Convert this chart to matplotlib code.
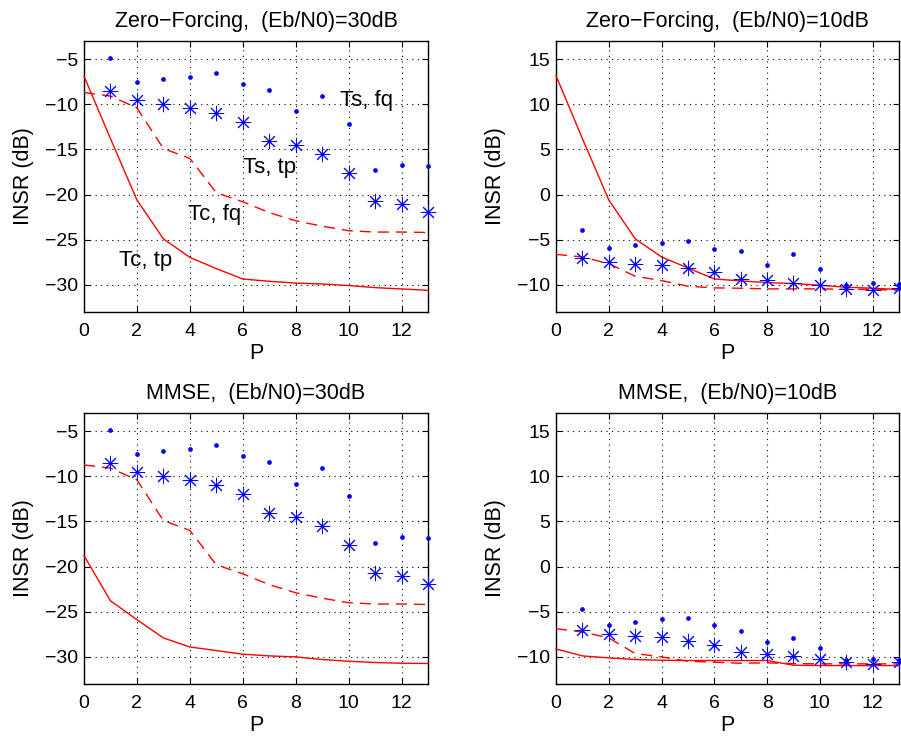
import matplotlib
matplotlib.use("Agg")
import matplotlib.pyplot as plt
import numpy as np

plt.rcParams['font.family'] = ['Liberation Sans', 'DejaVu Sans']

P_line = list(range(0, 14))
P_mark = list(range(1, 14))

# Zero-Forcing, Eb/N0 = 30 dB
zf30_ts_fq = [-4.93, -7.57, -7.24, -6.99, -6.54, -7.76, -8.38, -10.77, -9.08, -12.17, -17.32, -16.73, -16.84]
zf30_ts_tp = [-8.53, -9.49, -9.96, -10.44, -10.99, -11.95, -14.08, -14.49, -15.51, -17.57, -20.66, -21.07, -21.95]
zf30_tc_fq = [-8.7, -9.1, -10.4, -14.9, -16.0, -19.8, -20.8, -22.0, -22.9, -23.5, -24.0, -24.15, -24.15, -24.2]
zf30_tc_tp = [-6.9, -13.8, -20.6, -24.9, -26.95, -28.2, -29.35, -29.6, -29.8, -29.9, -30.07, -30.3, -30.45, -30.6]

# Zero-Forcing, Eb/N0 = 10 dB
zf10_ts_fq = [-3.97, -5.88, -5.59, -5.40, -5.15, -5.99, -6.29, -7.79, -6.62, -8.27, -9.96, -9.74, -9.89]
zf10_ts_tp = [-7.02, -7.46, -7.65, -7.76, -8.16, -8.57, -9.34, -9.49, -9.78, -10.04, -10.44, -10.51, -10.3]
zf10_tc_fq = [-6.62, -6.91, -7.65, -9.04, -9.52, -10.15, -10.33, -10.37, -10.44, -10.44, -10.44, -10.48, -10.5, -10.6]
zf10_tc_tp = [13.16, 6.2, -0.59, -4.89, -6.91, -8.13, -9.34, -9.56, -9.74, -9.85, -10.04, -10.26, -10.37, -10.51]

# MMSE, Eb/N0 = 30 dB
mm30_ts_fq = [-4.93, -7.57, -7.21, -6.99, -6.54, -7.79, -8.38, -10.81, -9.08, -12.17, -17.35, -16.73, -16.84]
mm30_ts_tp = [-8.53, -9.49, -9.96, -10.44, -10.99, -11.95, -14.08, -14.49, -15.51, -17.57, -20.66, -21.07, -21.95]
mm30_tc_fq = [-8.75, -9.1, -10.4, -14.9, -16.0, -19.8, -20.8, -22.0, -22.9, -23.5, -24.0, -24.15, -24.15, -24.2]
mm30_tc_tp = [-18.79, -23.79, -25.88, -27.9, -28.9, -29.3, -29.7, -29.89, -30.0, -30.29, -30.48, -30.62, -30.7, -30.73]

# MMSE, Eb/N0 = 10 dB
mm10_ts_fq = [-4.67, -6.51, -6.1, -5.77, -5.66, -6.51, -7.13, -8.31, -7.87, -9.04, -10.29, -10.22, -10.3]
mm10_ts_tp = [-7.06, -7.5, -7.68, -7.79, -8.2, -8.64, -9.45, -9.63, -9.89, -10.22, -10.55, -10.74, -10.59]
mm10_tc_fq = [-6.88, -7.24, -7.9, -9.63, -10.0, -10.48, -10.59, -10.7, -10.66, -10.74, -10.77, -10.77, -10.77, -10.77]
mm10_tc_tp = [-9.12, -9.89, -10.11, -10.29, -10.37, -10.4, -10.4, -10.4, -10.4, -10.92, -10.96, -10.96, -10.96, -10.96]

titles = ["Zero\u2212Forcing,  (Eb/N0)=30dB", "Zero\u2212Forcing,  (Eb/N0)=10dB",
          "MMSE,  (Eb/N0)=30dB", "MMSE,  (Eb/N0)=10dB"]
xticks = [0, 2, 4, 6, 8, 10, 12]
yticks_30 = [-30, -25, -20, -15, -10, -5]
yticks_10 = [-10, -5, 0, 5, 10, 15]

fig = plt.figure(figsize=(9.01, 7.36), dpi=100)
W, H = 901.0, 736.0
rects = [
    (84 / W, 1 - 312 / H, 344 / W, 271 / H),
    (556 / W, 1 - 312 / H, 343 / W, 271 / H),
    (84 / W, 1 - 684 / H, 344 / W, 271 / H),
    (556 / W, 1 - 684 / H, 343 / W, 271 / H),
]
panels = [
    (zf30_ts_fq, zf30_ts_tp, zf30_tc_fq, zf30_tc_tp, (-33, -3), yticks_30),
    (zf10_ts_fq, zf10_ts_tp, zf10_tc_fq, zf10_tc_tp, (-13, 17), yticks_10),
    (mm30_ts_fq, mm30_ts_tp, mm30_tc_fq, mm30_tc_tp, (-33, -3), yticks_30),
    (mm10_ts_fq, mm10_ts_tp, mm10_tc_fq, mm10_tc_tp, (-13, 17), yticks_10),
]

asterisk = (8, 2, 0)
for i, (rect, (tsfq, tstp, tcfq, tctp, ylim, yt)) in enumerate(zip(rects, panels)):
    ax = fig.add_axes(rect)
    ax.plot(P_line, tctp, '-', color='#ff0000', lw=1.0, clip_on=False, zorder=3)
    ax.plot(P_line, tcfq, '--', color='#ff0000', lw=1.0, dashes=(8, 5), zorder=3)
    ax.plot(P_mark, tsfq, 'o', color='#0000ff', ms=3.4, mec='none', clip_on=False, zorder=4)
    ax.plot(P_mark, tstp, linestyle='none', marker=asterisk, color='#0000ff', ms=11,
            mew=0.7, clip_on=False, zorder=4)
    ax.plot(P_mark, tstp, 'o', color='#0000ff', ms=2.2, mec='none', clip_on=False, zorder=4)
    ax.set_xlim(0, 13)
    ax.set_ylim(*ylim)
    ax.set_xticks(xticks)
    ax.set_yticks(yt)
    ax.grid(True, linestyle=(0, (1, 4)), color='black', linewidth=0.8)
    ax.tick_params(direction='in', length=4, width=0.8, labelsize=14, pad=8,
                   top=True, right=True)
    ax.tick_params(axis='y', pad=4)
    for s in ax.spines.values():
        s.set_linewidth(1.0)
    ax.set_title(titles[i], fontsize=15.5, pad=10)
    ax.set_xlabel("P", fontsize=15.5, labelpad=2)
    ax.set_ylabel("INSR (dB)", fontsize=15.5, labelpad=8)
    if i == 0:
        ax.text(9.67, -10.2, "Ts, fq", fontsize=16)
        ax.text(6.0, -17.57, "Ts, tp", fontsize=16)
        ax.text(3.92, -22.8, "Tc, fq", fontsize=16)
        ax.text(1.34, -27.9, "Tc, tp", fontsize=16)

fig.savefig("out.png", dpi=100)
